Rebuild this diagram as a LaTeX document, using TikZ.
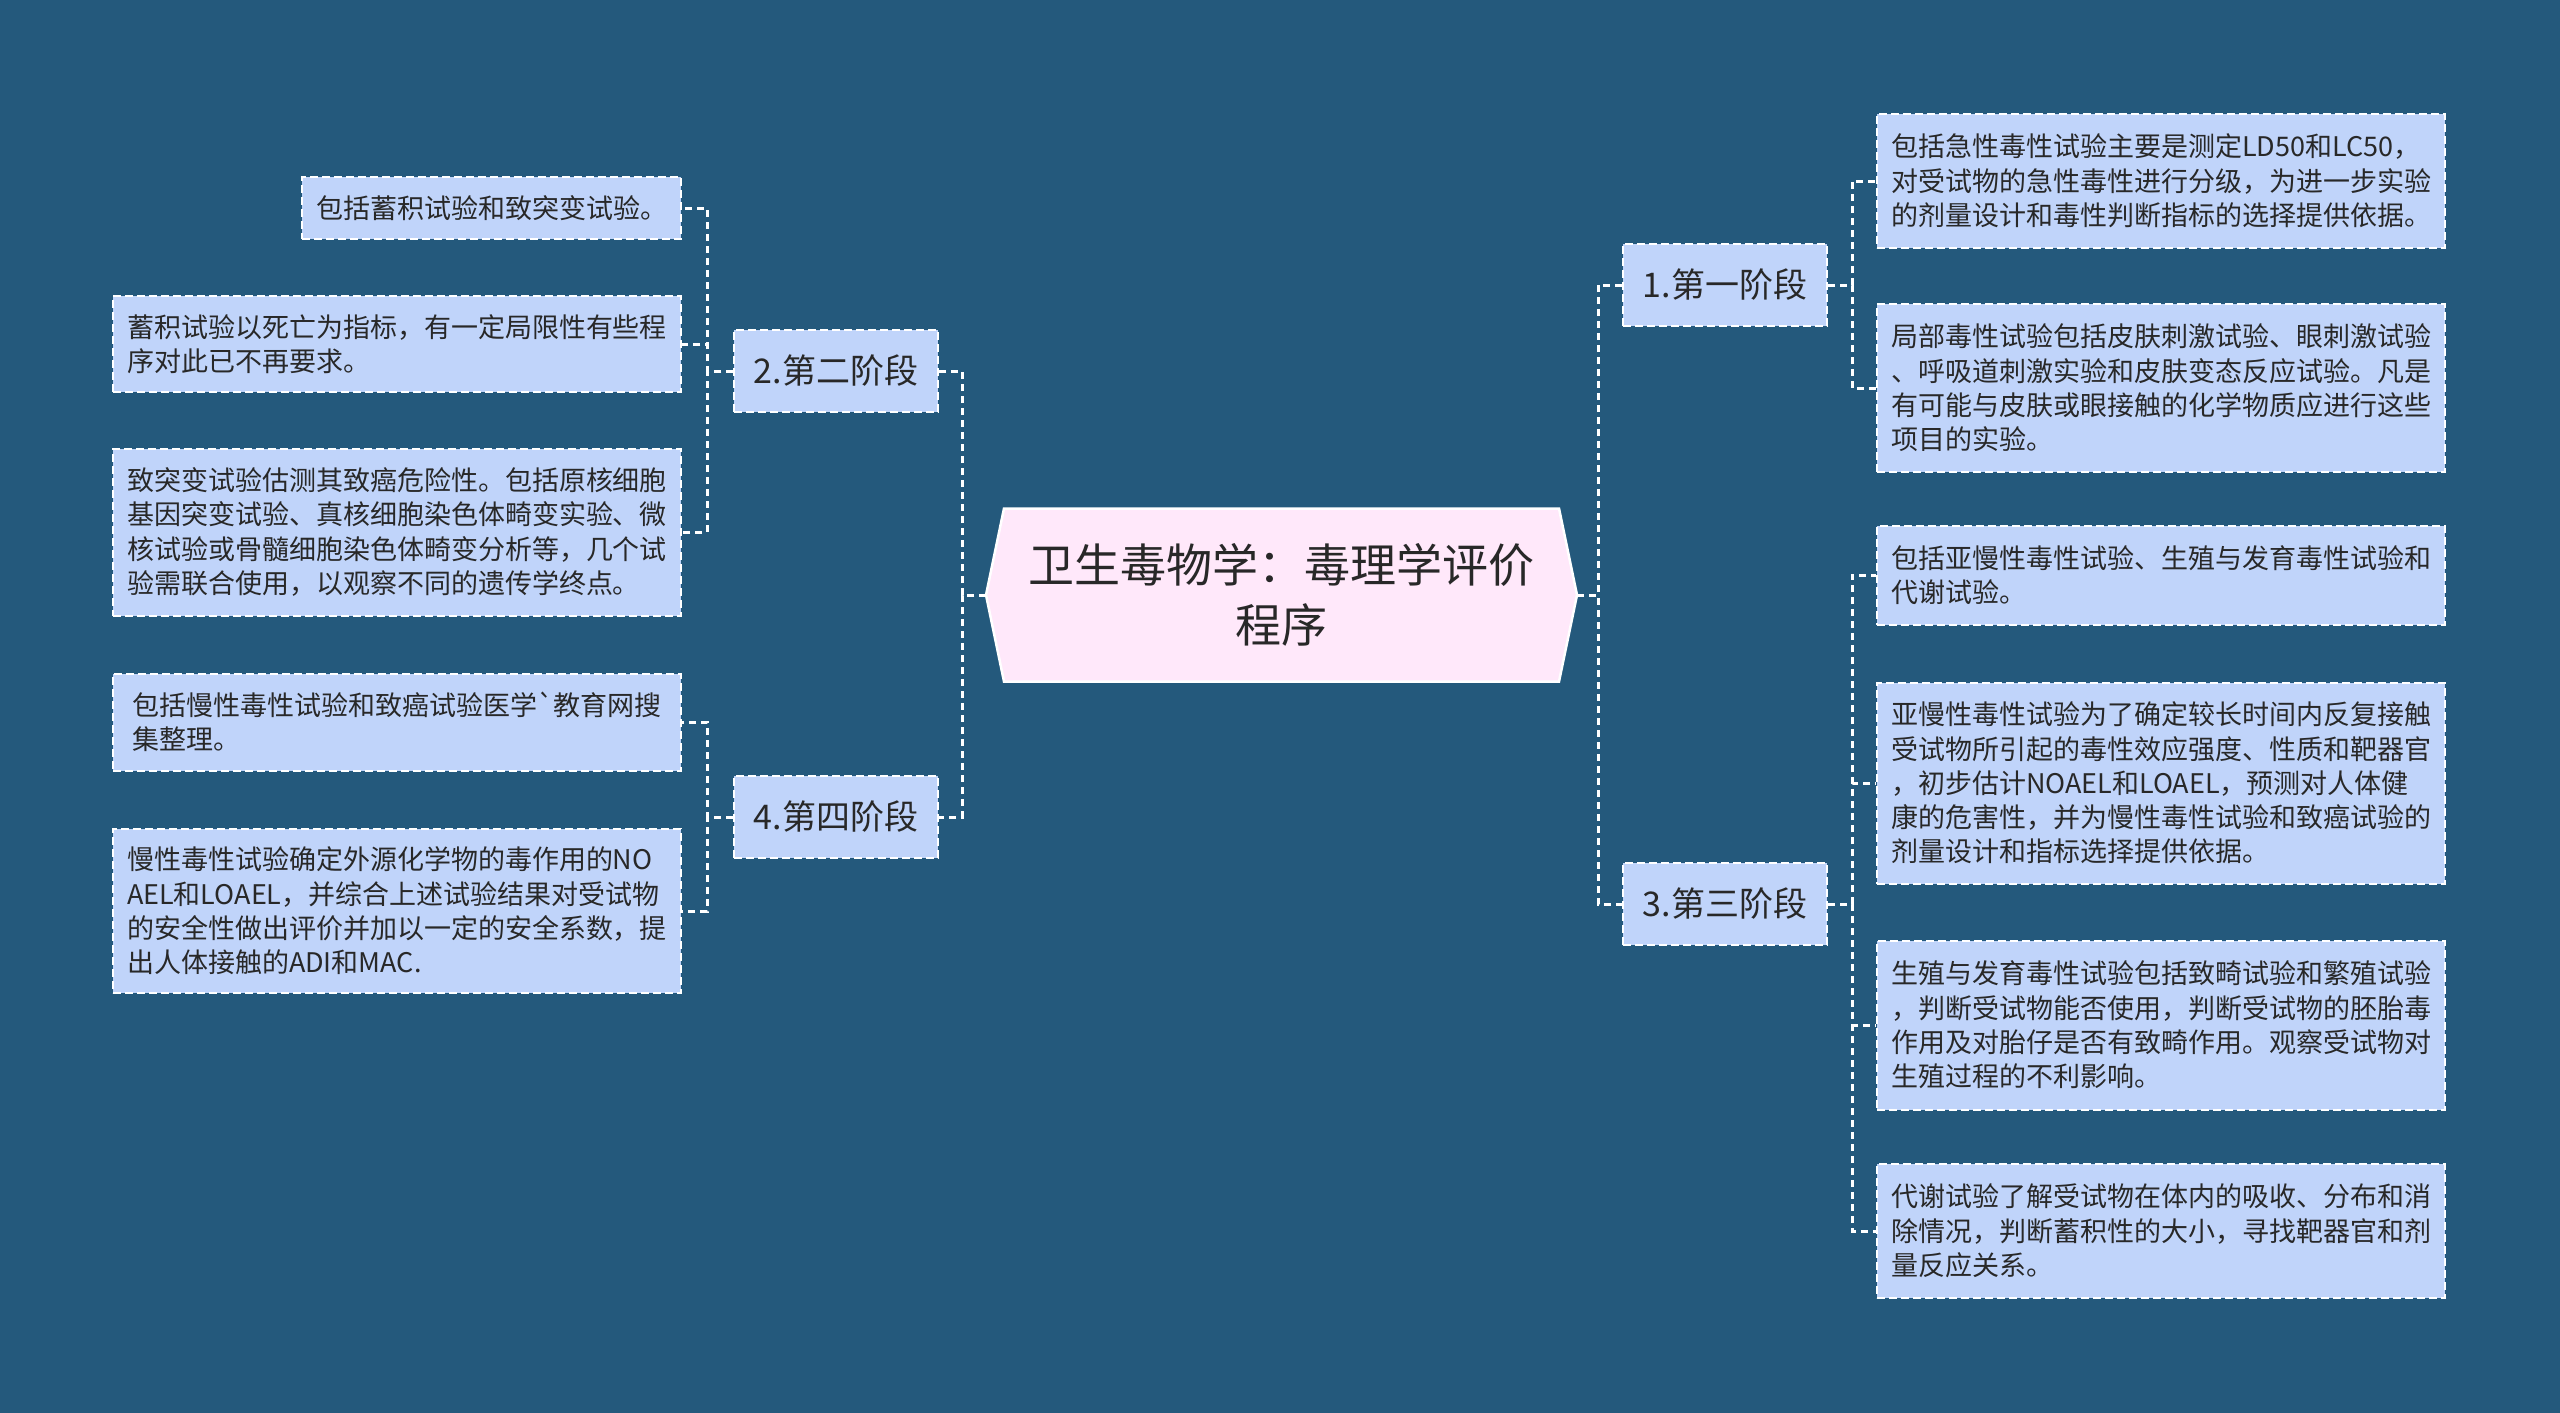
\documentclass[tikz,border=0pt]{standalone}
\usepackage{fontspec}
\setmainfont{Noto Sans CJK SC}[Ligatures=TeXOff]
\usetikzlibrary{backgrounds}
\definecolor{bgc}{RGB}{36,89,124}
\definecolor{leafc}{RGB}{192,212,250}
\definecolor{hubc}{RGB}{255,232,250}
\definecolor{inkc}{RGB}{40,40,40}
\begin{document}
\begin{tikzpicture}[x=1pt,y=-1pt,
  box/.style={draw=white, fill=leafc, line width=2pt, dash pattern=on 8pt off 4pt,
    text=inkc, align=left, inner xsep=14pt, inner ysep=0pt},
  leafbox/.style={box, font=\fontsize{27}{34.3}\selectfont, minimum width=568pt},
  stagebox/.style={box, font=\fontsize{34}{40}\selectfont, minimum width=204pt, minimum height=82pt, align=center},
  hubnode/.style={font=\fontsize{46}{60}\selectfont, text=inkc, align=center,
    minimum width=591pt, minimum height=173pt, inner sep=0pt, outer sep=0pt},
  conn/.style={draw=white, line width=3pt, dash pattern=on 7pt off 5pt}]
\useasboundingbox (0,0) rectangle (2560,1413);

\node[hubnode] (c) at (1281.5,595) {卫生毒物学：毒理学评价\\程序};

\node[stagebox] (s1) at (1725,285) {1.第一阶段};
\node[stagebox] (s2) at (836,371) {2.第二阶段};
\node[stagebox] (s3) at (1725,904) {3.第三阶段};
\node[stagebox] (s4) at (836,817) {4.第四阶段};

% right leaves
\node[leafbox, anchor=west, minimum height=134pt] (r1) at (1876,181)
  {包括急性毒性试验主要是测定LD50和LC50，\\对受试物的急性毒性进行分级，为进一步实验\\的剂量设计和毒性判断指标的选择提供依据。};
\node[leafbox, anchor=west, minimum height=168pt] (r2) at (1876,388)
  {局部毒性试验包括皮肤刺激试验、眼刺激试验\\、呼吸道刺激实验和皮肤变态反应试验。凡是\\有可能与皮肤或眼接触的化学物质应进行这些\\项目的实验。};
\node[leafbox, anchor=west, minimum height=99pt] (r3) at (1876,575)
  {包括亚慢性毒性试验、生殖与发育毒性试验和\\代谢试验。};
\node[leafbox, anchor=west, minimum height=201pt] (r4) at (1876,783)
  {亚慢性毒性试验为了确定较长时间内反复接触\\受试物所引起的毒性效应强度、性质和靶器官\\，初步估计NOAEL和LOAEL，预测对人体健\\康的危害性，并为慢性毒性试验和致癌试验的\\剂量设计和指标选择提供依据。};
\node[leafbox, anchor=west, minimum height=169pt] (r5) at (1876,1025)
  {生殖与发育毒性试验包括致畸试验和繁殖试验\\，判断受试物能否使用，判断受试物的胚胎毒\\作用及对胎仔是否有致畸作用。观察受试物对\\生殖过程的不利影响。};
\node[leafbox, anchor=west, minimum height=134pt] (r6) at (1876,1231)
  {代谢试验了解受试物在体内的吸收、分布和消\\除情况，判断蓄积性的大小，寻找靶器官和剂\\量反应关系。};

% left leaves
\node[box, font=\fontsize{27}{34.3}\selectfont, anchor=east, minimum height=62pt] (l1) at (682,208)
  {包括蓄积试验和致突变试验。};
\node[leafbox, anchor=east, minimum height=96pt] (l2) at (682,344)
  {蓄积试验以死亡为指标，有一定局限性有些程\\序对此已不再要求。};
\node[leafbox, anchor=east, minimum height=167pt] (l3) at (682,532)
  {致突变试验估测其致癌危险性。包括原核细胞\\基因突变试验、真核细胞染色体畸变实验、微\\核试验或骨髓细胞染色体畸变分析等，几个试\\验需联合使用，以观察不同的遗传学终点。};
\node[leafbox, anchor=east, minimum height=97pt] (l4) at (682,722)
  {包括慢性毒性试验和致癌试验医学`教育网搜\\集整理。};
\node[leafbox, anchor=east, minimum height=164pt] (l5) at (682,911)
  {慢性毒性试验确定外源化学物的毒作用的NO\\AEL和LOAEL，并综合上述试验结果对受试物\\的安全性做出评价并加以一定的安全系数，提\\出人体接触的ADI和MAC.};

% connectors
\draw[conn] (c.west) -- ++(-24,0) |- (s2.east);
\draw[conn] (c.west) -- ++(-24,0) |- (s4.east);
\draw[conn] (c.east) -- ++(21,0) |- (s1.west);
\draw[conn] (c.east) -- ++(21,0) |- (s3.west);
\foreach \t in {r1,r2} \draw[conn] (s1.east) -- ++(24,0) |- (\t.west);
\foreach \t in {r3,r4,r5,r6} \draw[conn] (s3.east) -- ++(24,0) |- (\t.west);
\foreach \t in {l1,l2,l3} \draw[conn] (s2.west) -- ++(-26,0) |- (\t.east);
\foreach \t in {l4,l5} \draw[conn] (s4.west) -- ++(-26,0) |- (\t.east);

\begin{pgfonlayer}{background}
\fill[bgc] (0,0) rectangle (2560,1413);
\filldraw[fill=hubc, draw=white, line width=2.5pt]
  (c.west) -- ([xshift=18pt]c.north west) -- ([xshift=-18pt]c.north east) -- (c.east)
  -- ([xshift=-18pt]c.south east) -- ([xshift=18pt]c.south west) -- cycle;
\end{pgfonlayer}
\end{tikzpicture}
\end{document}
